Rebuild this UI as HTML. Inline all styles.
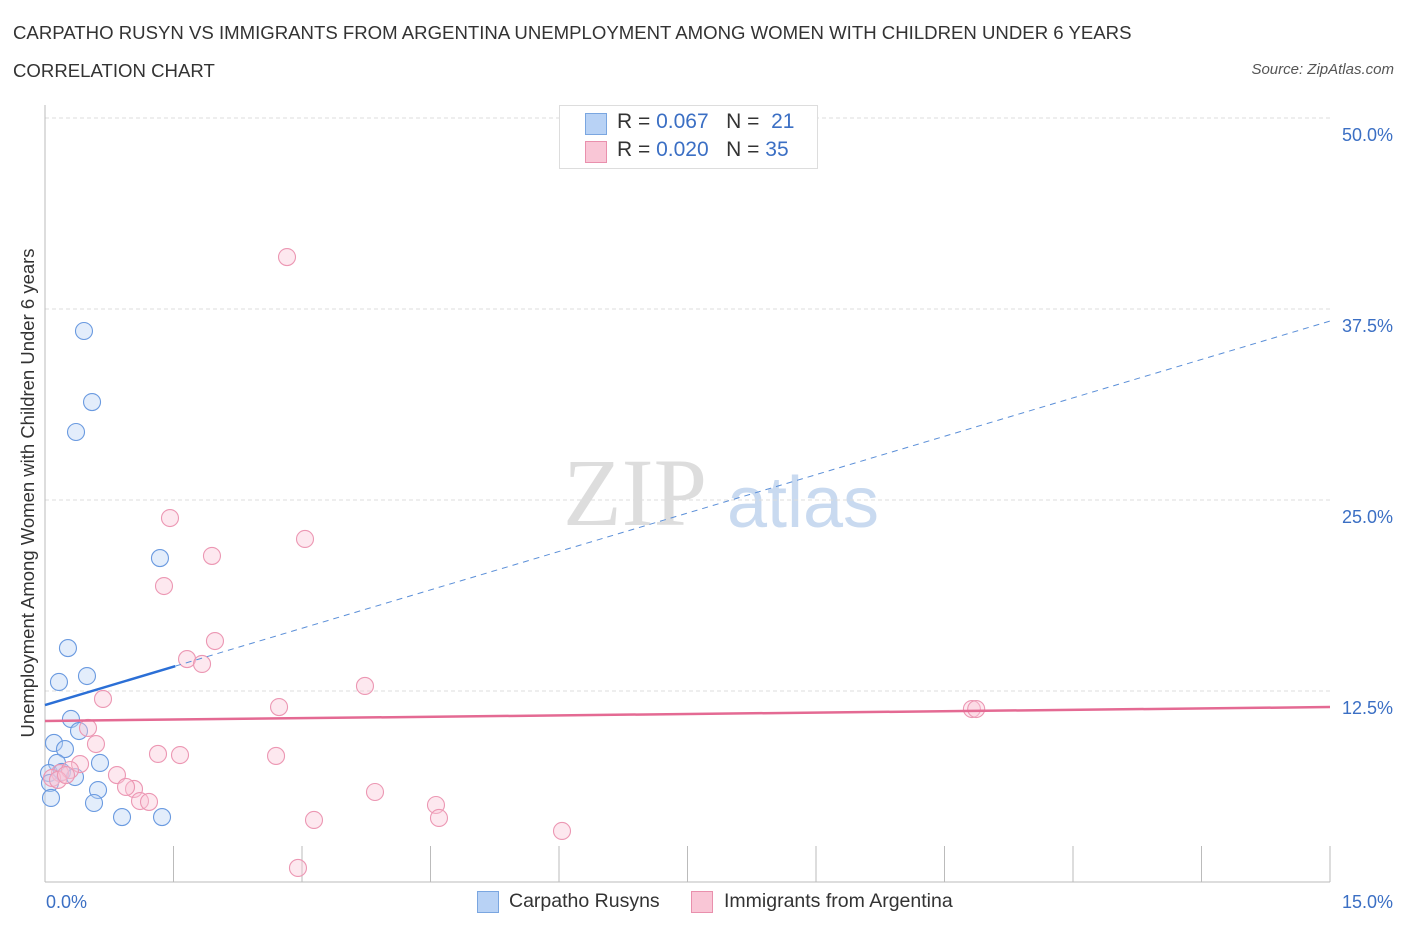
<!DOCTYPE html>
<html><head><meta charset="utf-8"><style>
body{margin:0;width:1406px;height:930px;background:#fff;font-family:"Liberation Sans",sans-serif;overflow:hidden;position:relative}
.t{position:absolute;white-space:nowrap}
</style></head><body>
<div class="t" style="left:13px;top:22px;font-size:18.6px;color:#333">CARPATHO RUSYN VS IMMIGRANTS FROM ARGENTINA UNEMPLOYMENT AMONG WOMEN WITH CHILDREN UNDER 6 YEARS</div>
<div class="t" style="left:13px;top:60px;font-size:18.6px;color:#333">CORRELATION CHART</div>
<div class="t" style="right:12px;top:61px;font-size:15px;color:#555;font-style:italic">Source: ZipAtlas.com</div>
<svg id="c" width="1406" height="930" style="position:absolute;left:0;top:0">
<text x="635" y="525" font-family="Liberation Serif,serif" font-size="96" fill="#ddd" text-anchor="middle">ZIP</text>
<text x="803" y="527" font-size="72" fill="#c9daf0" text-anchor="middle">atlas</text>
<text transform="translate(34,493) rotate(-90)" font-size="18.5" fill="#333" text-anchor="middle">Unemployment Among Women with Children Under 6 years</text>
</svg>
<div class="t" style="left:559px;top:105px;width:257px;height:62px;border:1px solid #ddd;background:#fff"></div>
<div class="t" style="left:585px;top:113px;width:20px;height:20px;background:#b8d2f5;border:1px solid #7aa6e0"></div>
<div class="t" style="left:585px;top:141px;width:20px;height:20px;background:#f9c6d6;border:1px solid #e990ad"></div>
<div class="t" style="left:617px;top:110px;font-size:21px;color:#333">R = <span style="color:#3b6fc4">0.067</span>&nbsp;&nbsp;&nbsp;N = &nbsp;<span style="color:#3b6fc4">21</span></div>
<div class="t" style="left:617px;top:138px;font-size:21px;color:#333">R = <span style="color:#3b6fc4">0.020</span>&nbsp;&nbsp;&nbsp;N = <span style="color:#3b6fc4">35</span></div>
<div class="t" style="left:477px;top:891px;width:20px;height:20px;background:#b8d2f5;border:1px solid #7aa6e0"></div>
<div class="t" style="left:509px;top:890px;font-size:19.5px;color:#333">Carpatho Rusyns</div>
<div class="t" style="left:691px;top:891px;width:20px;height:20px;background:#f9c6d6;border:1px solid #e990ad"></div>
<div class="t" style="left:724px;top:890px;font-size:19.5px;color:#333">Immigrants from Argentina</div>
<script>
const yTicks=[12.5,25,37.5,50];
const yTickLabels=["12.5%","25.0%","37.5%","50.0%"];
const xTickLabels=["0.0%","15.0%"];
const blueX=[0.455,0.549,0.362,1.342,0.268,0.163,0.49,0.303,0.397,0.105,0.233,0.14,0.642,0.047,0.198,0.35,0.058,0.619,0.572,0.07,0.899,1.366];
const blueY=[36.06,31.41,29.45,21.2,15.31,13.09,13.48,10.67,9.88,9.1,8.7,7.79,7.79,7.13,7.2,6.87,6.48,6.02,5.17,5.5,4.25,4.25];
const pinkX=[2.825,1.459,1.949,3.035,1.389,1.984,1.658,1.833,0.677,3.735,2.732,0.502,0.595,1.319,1.576,2.697,0.409,0.84,1.039,0.946,1.109,1.214,3.852,4.564,4.599,3.14,6.035,2.953,10.82,10.87,0.175,0.292,0.082,0.152,0.245];
const pinkY=[40.9,23.82,21.34,22.45,19.37,15.77,14.59,14.27,11.98,12.83,11.45,10.08,9.03,8.38,8.31,8.25,7.72,7.0,6.09,6.22,5.3,5.24,5.89,5.04,4.19,4.06,3.34,0.92,11.32,11.32,7.13,7.33,6.81,6.68,7.0];
const blueTrend=[11.58,36.71];
const blueSolidEnd=1.52;
const pinkTrend=[10.54,11.45];
const X0=45,X1=1330,Y0=882,PER=191/12.5;
const sx=v=>X0+(v/15)*(X1-X0);
const sy=v=>Y0-v*PER;
const svg=document.getElementById('c');
const NS='http://www.w3.org/2000/svg';
function mk(t,a){const e=document.createElementNS(NS,t);for(const k in a)e.setAttribute(k,a[k]);svg.appendChild(e);return e;}
yTicks.forEach((v,i)=>{
 const g=mk('line',{x1:X0,x2:X1,y1:sy(v),y2:sy(v),stroke:'#ddd','stroke-dasharray':'4,3'});
 
 
 const t=mk('text',{x:1393,y:sy(v)+23,'font-size':18,fill:'#3b6fc4','text-anchor':'end'});
 t.textContent=yTickLabels[i];
 
 
});
const ax=mk('line',{x1:X0,x2:X0,y1:105,y2:Y0,stroke:'#bbb'});


const bx=mk('line',{x1:X0,x2:X1,y1:Y0,y2:Y0,stroke:'#bbb'});


for(let i=1;i<=10;i++){
 const tk=mk('line',{x1:sx(i*1.5),x2:sx(i*1.5),y1:Y0,y2:Y0-36,stroke:'#bbb'});
 
 
}
xTickLabels.forEach((l,i)=>{
 const t=mk('text',{x:i?1393:46,y:908,'font-size':18,fill:'#3b6fc4','text-anchor':i?'end':'start'});
 t.textContent=l;
 
 
});
function pts(xs,ys,fill,stroke,name){
 xs.forEach((x,i)=>{
  const c=mk('circle',{cx:sx(x),cy:sy(ys[i]),r:8.5,fill:fill,'fill-opacity':0.4,stroke:stroke,'stroke-width':1.1});
  
  
 });
}
pts(blueX,blueY,'#b8d2f5','#6a9ae0','carpatho-rusyn-point');
pts(pinkX,pinkY,'#f9c6d6','#ec97b3','argentina-point');
const bl=(x)=>blueTrend[0]+(blueTrend[1]-blueTrend[0])*x/15;
const l1=mk('line',{x1:sx(0),y1:sy(bl(0)),x2:sx(blueSolidEnd),y2:sy(bl(blueSolidEnd)),stroke:'#2b6fd6','stroke-width':2.5});


const l2=mk('line',{x1:sx(blueSolidEnd),y1:sy(bl(blueSolidEnd)),x2:sx(15),y2:sy(bl(15)),stroke:'#5b8fd8','stroke-width':1,'stroke-dasharray':'6,5'});


const l3=mk('line',{x1:sx(0),y1:sy(pinkTrend[0]),x2:sx(15),y2:sy(pinkTrend[1]),stroke:'#e46a93','stroke-width':2.5});


</script>
</body></html>
